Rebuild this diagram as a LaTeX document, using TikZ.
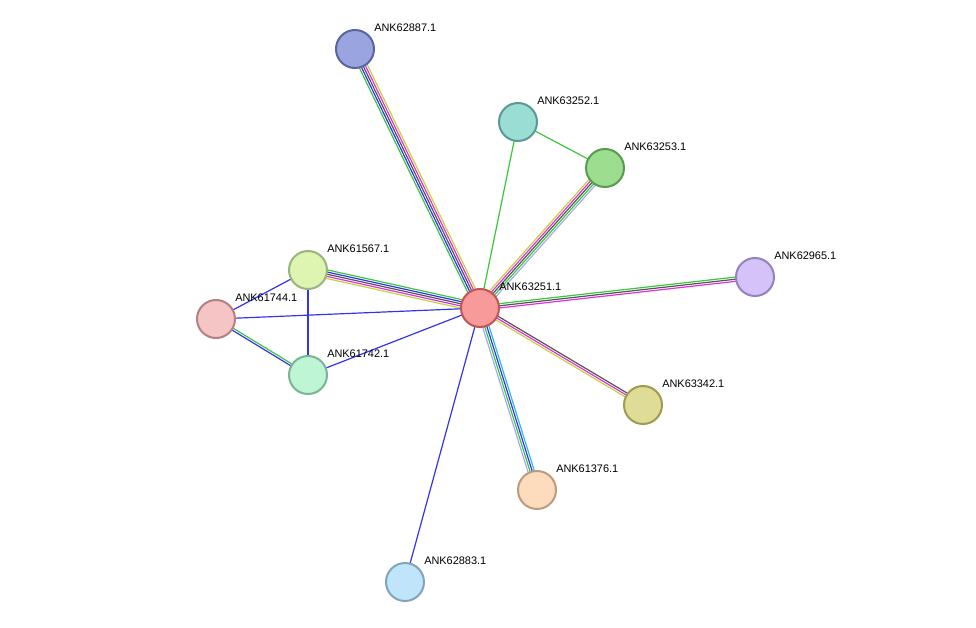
\documentclass[tikz,border=0pt]{standalone}
\usepackage{fontspec}
\setmainfont{Liberation Sans}
\usetikzlibrary{calc}
\definecolor{eg}{HTML}{3CC63C}
\definecolor{eb}{HTML}{3333EE}
\definecolor{ek}{HTML}{555555}
\definecolor{em}{HTML}{DD33DD}
\definecolor{ey}{HTML}{C2D43A}
\definecolor{el}{HTML}{A8A8F0}
\definecolor{ec}{HTML}{33BBDD}
\definecolor{f1}{HTML}{9AA5E0}\definecolor{d1}{HTML}{5A64A0}
\definecolor{f2}{HTML}{99DDD5}\definecolor{d2}{HTML}{5A9A94}
\definecolor{f3}{HTML}{9DDD90}\definecolor{d3}{HTML}{5A9A50}
\definecolor{f4}{HTML}{DDF5B0}\definecolor{d4}{HTML}{9AB57A}
\definecolor{f5}{HTML}{F99A9A}\definecolor{d5}{HTML}{C05555}
\definecolor{f6}{HTML}{D5C2F8}\definecolor{d6}{HTML}{9580C0}
\definecolor{f7}{HTML}{F5C5C5}\definecolor{d7}{HTML}{B58080}
\definecolor{f8}{HTML}{BDF5D5}\definecolor{d8}{HTML}{7AB595}
\definecolor{f9}{HTML}{DFDC98}\definecolor{d9}{HTML}{9F9C50}
\definecolor{f10}{HTML}{FDDCBD}\definecolor{d10}{HTML}{BD9C7D}
\definecolor{f11}{HTML}{C0E5FA}\definecolor{d11}{HTML}{80A5BA}
\tikzset{prot/.style={circle,minimum size=28.5pt,inner sep=0pt,line width=1.5pt},
lab/.style={font=\fontsize{8.2}{9}\selectfont,anchor=west,inner sep=0pt},
ed/.style={line width=0.9pt}}
\newcommand{\medge}[3]{%
\foreach \cc [count=\ii] in {#3}{%
\pgfmathsetmacro{\off}{(\ii-(#2+1)/2)*1.6}
\draw[ed,\cc] ($(#1)!\off pt!90:(ANK63251)$) -- ($(ANK63251)!\off pt!-90:(#1)$);}}
\begin{document}
\begin{tikzpicture}[x=0.75pt,y=-0.75pt]
\useasboundingbox (0,0) rectangle (976,628);
\coordinate (p62887) at (355,49);
\coordinate (p63252) at (518,122);
\coordinate (p63253) at (605,168);
\coordinate (p61567) at (308,270);
\coordinate (p63251) at (480,308);
\coordinate (p62965) at (755,277);
\coordinate (p61744) at (216,319);
\coordinate (p61742) at (308,375);
\coordinate (p63342) at (643,405);
\coordinate (p61376) at (537,490);
\coordinate (p62883) at (405,582);
\foreach \n in {63251,62887,63252,63253,61567,62965,61744,61742,63342,61376,62883}{\coordinate (ANK\n) at (p\n);}
\medge{ANK62887}{5}{eg,eb,ek,em,ey}
\medge{ANK63253}{5}{ey,em,ek,eg,el}
\medge{ANK61567}{5}{ey,em,ek,eb,eg}
\medge{ANK62965}{3}{eg,ek,em}
\medge{ANK63342}{3}{ek,em,ey}
\medge{ANK61376}{4}{ec,eb,eg,el}
\draw[ed,eg] (ANK63252) -- (ANK63251);
\draw[ed,eg] (ANK63252) -- (ANK63253);
\draw[ed,eb] (ANK62883) -- (ANK63251);
\draw[ed,eb] (ANK61742) -- (ANK63251);
\draw[ed,eb] (ANK61744) -- (ANK63251);
\draw[ed,eb] (ANK61744) -- (ANK61567);
\draw[ed,eb] (ANK61567) -- (ANK61742);
\draw[ed,eg] ($(ANK61744)!0.8pt!90:(ANK61742)$) -- ($(ANK61742)!0.8pt!-90:(ANK61744)$);
\draw[ed,eb] ($(ANK61744)!-0.8pt!90:(ANK61742)$) -- ($(ANK61742)!-0.8pt!-90:(ANK61744)$);
\foreach \n/\k in {62887/1,63252/2,63253/3,61567/4,63251/5,62965/6,61744/7,61742/8,63342/9,61376/10,62883/11}{
\node[prot,fill=f\k,draw=d\k] (N\n) at (p\n) {};
\node[lab] (L\n) at ($(p\n)+(19,-21)$) {ANK\n.1};}
\end{tikzpicture}
\end{document}
